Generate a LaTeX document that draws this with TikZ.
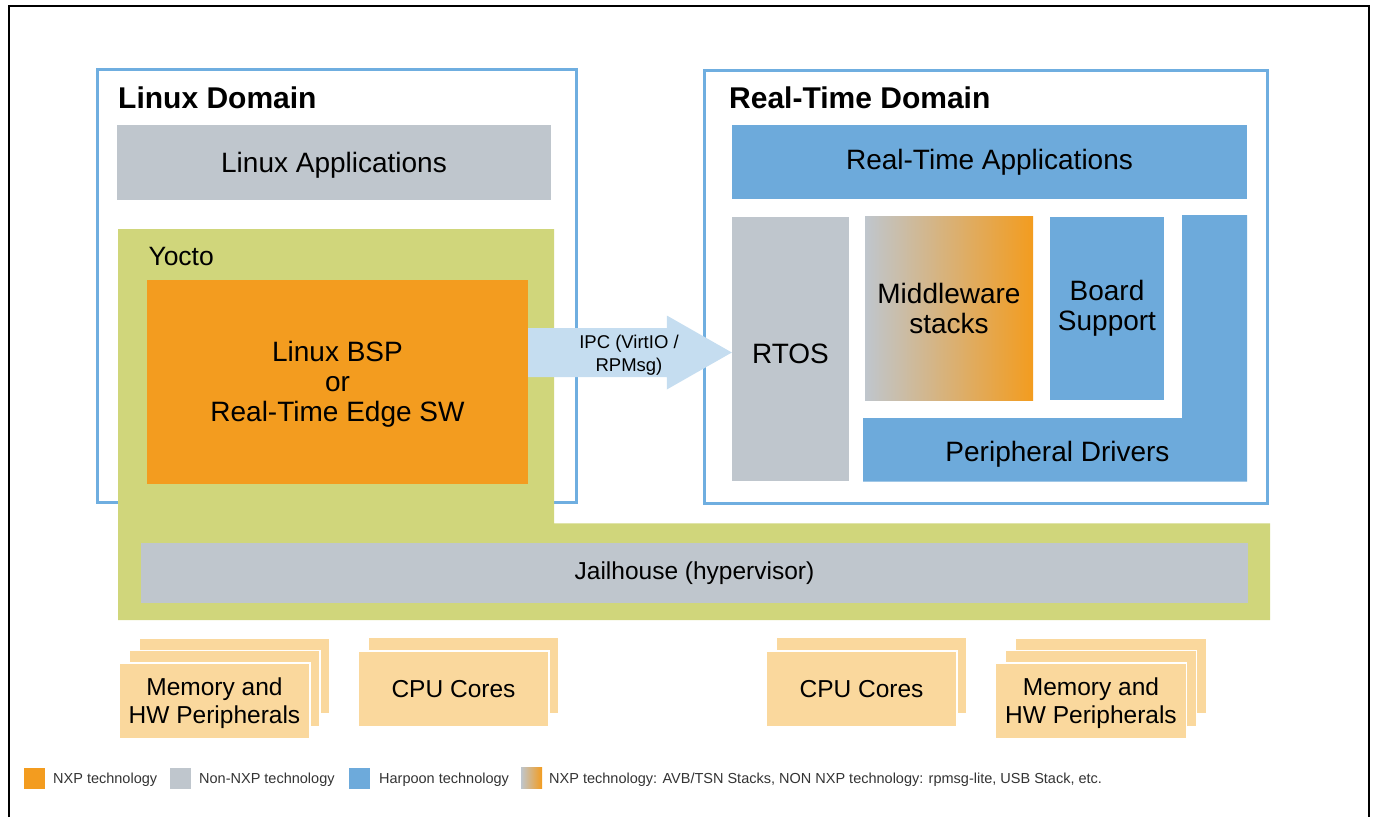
\documentclass[tikz,border=0pt]{standalone}
\usepackage{fontspec}
\setmainfont{Liberation Sans}
\usetikzlibrary{positioning, calc}

\definecolor{nxporange}{HTML}{F39C1F}
\definecolor{nongray}{HTML}{BFC6CD}
\definecolor{harpoonblue}{HTML}{6DAADB}
\definecolor{domainblue}{HTML}{6FAEE0}
\definecolor{yoctogreen}{HTML}{D0D67B}
\definecolor{hwpeach}{HTML}{FAD89D}
\definecolor{ipcblue}{HTML}{C5DDF0}
\definecolor{legendgray}{HTML}{333333}

\begin{document}
\begin{tikzpicture}[x=1pt, y=-1pt,
  swblock/.style={rectangle, inner sep=0pt, align=center, font=\fontsize{28}{30}\selectfont},
  domainbox/.style={rectangle, inner sep=0pt, draw=domainblue, line width=3pt, fill=white},
  domaintitle/.style={anchor=base west, inner sep=0pt, font=\fontsize{30}{32}\selectfont\bfseries},
  nxp/.style={swblock, fill=nxporange},
  nonnxp/.style={swblock, fill=nongray},
  harpoon/.style={swblock, fill=harpoonblue},
  mixed/.style={swblock, left color=nongray, right color=nxporange},
  hwblock/.style={swblock, fill=hwpeach, draw=white, line width=1.5pt, minimum width=191, minimum height=76, font=\fontsize{24.5}{28}\selectfont},
  keybox/.style={rectangle, inner sep=0pt, minimum size=21},
  keytext/.style={anchor=west, inner sep=0pt, text depth=0pt, text=legendgray, font=\fontsize{14.5}{16}\selectfont}]

  \useasboundingbox (0,0) rectangle (1374,817);
  \draw[line width=2.5pt] (9,817) -- (9,6) -- (1369,6) -- (1369,817);

  % domains
  \node[domainbox, minimum width=479, minimum height=433] (linuxdom) at (337,286.4) {};
  \node[domaintitle] (linuxtitle) at (118,108) {Linux Domain};
  \node[domainbox, minimum width=563.5, minimum height=433] (rtdom) at (986.2,286.5) {};
  \node[domaintitle] (rttitle) at (729,108) {Real-Time Domain};

  % Yocto and hypervisor layer
  \fill[yoctogreen] (118,229) -- (554,229) -- (554,523.3) -- (1270,523.3) -- (1270,620) -- (118,620) -- cycle;
  \node[anchor=base west, inner sep=0pt, font=\fontsize{26.5}{28}\selectfont] (yocto) at (148.3,265) {Yocto};
  \node[nonnxp, text depth=0pt, minimum width=434, minimum height=75] (linuxapps) at (334,162.5) {Linux Applications};
  \node[nxp, text depth=0pt, minimum width=381, minimum height=203.7] (bsp) at (337.5,381.8) {Linux BSP\\or\\Real-Time Edge SW};
  \node[nonnxp, minimum width=1107, minimum height=60, font=\fontsize{24.5}{26}\selectfont] (jailhouse) at (694.5,573) {Jailhouse (hypervisor)};

  % real-time side
  \node[harpoon, minimum width=515, minimum height=74] (rtapps) at (989.5,162) {Real-Time Applications};
  \node[nonnxp, text height=30pt, minimum width=117, minimum height=264] (rtos) at (790.5,349) {RTOS};
  \node[mixed, minimum width=168, minimum height=184] (midware) at (949,308.7) {Middleware\\stacks};
  \node[harpoon, minimum width=114, minimum height=183] (board) at (1107,308.5) {Board\\Support};
  \fill[harpoonblue] (863,418) -- (1182,418) -- (1182,215) -- (1247,215) -- (1247,481.7) -- (863,481.7) -- cycle;
  \node[swblock, text depth=0pt] (periph) at (1057.5,451.7) {Peripheral Drivers};

  % IPC arrow
  \coordinate (ipcA) at (bsp.east |- 0,352.5);
  \coordinate (ipcB) at (rtos.west |- 0,352.5);
  \fill[ipcblue] ($(ipcA)+(0,-24.5)$) -- ($(ipcB)+(-65,-24.5)$) -- ($(ipcB)+(-65,-37)$) -- (ipcB)
    -- ($(ipcB)+(-65,37)$) -- ($(ipcB)+(-65,24.5)$) -- ($(ipcA)+(0,24.5)$) -- cycle;
  \node[align=center, inner sep=0pt, font=\fontsize{18.5}{23}\selectfont] (ipc) at (629,355) {IPC (VirtIO /\\RPMsg)};

  % hardware
  \foreach \d in {2,1} {
    \node[hwblock] (memL-\d) at ({214.5+10*\d},{701-12.5*\d}) {};
    \node[hwblock] (memR-\d) at ({1091+10*\d},{701-12.5*\d}) {};
  }
  \node[hwblock] (cpuL-1) at (463.5,675.5) {};
  \node[hwblock] (cpuR-1) at (871.5,675.5) {};
  \node[hwblock, text depth=0pt] (memL) at (214.5,701) {Memory and\\HW Peripherals};
  \node[hwblock] (cpuL) at (453.5,689) {CPU Cores};
  \node[hwblock] (cpuR) at (861.5,689) {CPU Cores};
  \node[hwblock, text depth=0pt] (memR) at (1091,701) {Memory and\\HW Peripherals};

  % legend
  \node[keybox, fill=nxporange] (keynxp) at (34.5,778) {};
  \node[keytext] (txtnxp) at (53,778) {NXP technology};
  \node[keybox, fill=nongray] (keynon) at (180.5,778) {};
  \node[keytext] (txtnon) at (199,778) {Non-NXP technology};
  \node[keybox, fill=harpoonblue] (keyharp) at (359.5,778) {};
  \node[keytext] (txtharp) at (379,778) {Harpoon technology};
  \node[keybox, left color=nongray, right color=nxporange] (keymix) at (531.5,778) {};
  \node[keytext] (txtmix) at (549,778) {NXP technology: AVB/TSN Stacks, NON NXP technology: rpmsg-lite, USB Stack, etc.};
\end{tikzpicture}
\end{document}
